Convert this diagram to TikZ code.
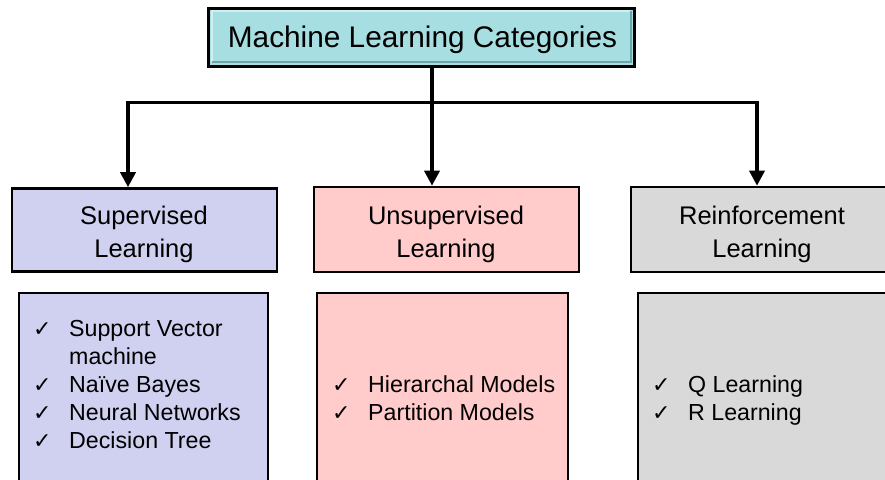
\documentclass[tikz,border=0pt]{standalone}
\usepackage{fontspec}
\setmainfont{Liberation Sans}
\newfontfamily\checkfont{DejaVu Sans}
\usetikzlibrary{arrows.meta}

\definecolor{titlefill}{RGB}{166,222,225}
\definecolor{titlelight}{RGB}{205,240,242}
\definecolor{titledark}{RGB}{110,165,170}
\definecolor{supfill}{RGB}{208,208,240}
\definecolor{unsfill}{RGB}{255,203,203}
\definecolor{reifill}{RGB}{217,217,217}

% one checked item: tick followed by its text
\newcommand\tickitem{\makebox[36pt][l]{\smash{\checkfont\fontsize{22}{22}\selectfont ✓}}}
\newcommand\tickindent{\hspace*{36pt}}

\tikzset{
  catbox/.style={draw=black, line width=2.6pt, rectangle, inner sep=0pt,
    align=center, font=\fontsize{25}{33}\selectfont},
  listbox/.style={draw=black, line width=2.6pt, rectangle, inner sep=0pt},
  listtext/.style={anchor=west, inner sep=0pt, align=left,
    font=\fontsize{23.2}{28}\selectfont},
  link/.style={line width=3.6pt, line cap=rect},
  arrowlink/.style={line width=3.6pt, -{Triangle[length=15pt,width=15pt]}},
}

\begin{document}
\begin{tikzpicture}[x=1pt, y=-1pt]
\useasboundingbox (0,0) rectangle (885,479);
\clip (0,0) rectangle (885,479);

% title block with bevelled rim
\node[rectangle, fill=titlefill, draw=black, line width=3pt,
      minimum width=426pt, minimum height=58pt, inner sep=0pt]
  (title) at (421.5,37) {};
\draw[titlelight, line width=2.5pt] (212,62) -- (212,11) -- (631,11);
\draw[titledark, line width=2.5pt] (631,11) -- (631,62) -- (212,62);
\node[font=\fontsize{29.8}{30}\selectfont, inner sep=0pt]
  (titletext) at (422.5,40) {Machine Learning Categories};

% category boxes
\node[catbox, fill=supfill, minimum width=265pt, minimum height=83pt]
  (sup) at (144.5,230) {};
\node[catbox, fill=unsfill, minimum width=265pt, minimum height=85pt]
  (uns) at (446.5,229.5) {};
\node[catbox, fill=reifill, minimum width=300pt, minimum height=85pt]
  (rei) at (781,229.5) {};
\node[catbox, draw=none, font=\fontsize{25.5}{33}\selectfont]
  (suptext) at (144,234) {Supervised\\Learning};
\node[catbox, draw=none, font=\fontsize{25.5}{33}\selectfont]
  (unstitle) at (446,234) {Unsupervised\\Learning};
\node[catbox, draw=none, font=\fontsize{25.5}{33}\selectfont]
  (reititle) at (762,234) {Reinforcement\\Learning};

% list boxes
\node[listbox, fill=supfill, minimum width=249pt, minimum height=220pt]
  (suplist) at (143.5,403) {};
\node[listbox, fill=unsfill, minimum width=251pt, minimum height=220pt]
  (unslist) at (442.5,403) {};
\node[listbox, fill=reifill, minimum width=280pt, minimum height=220pt]
  (reilist) at (778,403) {};

\node[listtext] (suplisttext) at (33,385)
  {\tickitem Support Vector\\\tickindent machine\\\tickitem Naïve Bayes\\
   \tickitem Neural Networks\\\tickitem Decision Tree};
\node[listtext] (unslisttext) at (332,398.5)
  {\tickitem Hierarchal Models\\\tickitem Partition Models};
\node[listtext] (reilisttext) at (652,400)
  {\tickitem Q Learning\\\tickitem R Learning};

% connectors
\coordinate (hub) at (432,102.5);
\coordinate (jl) at (128,102.5);
\coordinate (jr) at (757,102.5);
\draw[link] (title.south -| hub) -- (hub);
\draw[link] (jl) -- (jr);
\draw[arrowlink] (jl) -- (jl |- sup.north);
\draw[arrowlink] (hub) -- (hub |- uns.north);
\draw[arrowlink] (jr) -- (jr |- rei.north);
\end{tikzpicture}
\end{document}
